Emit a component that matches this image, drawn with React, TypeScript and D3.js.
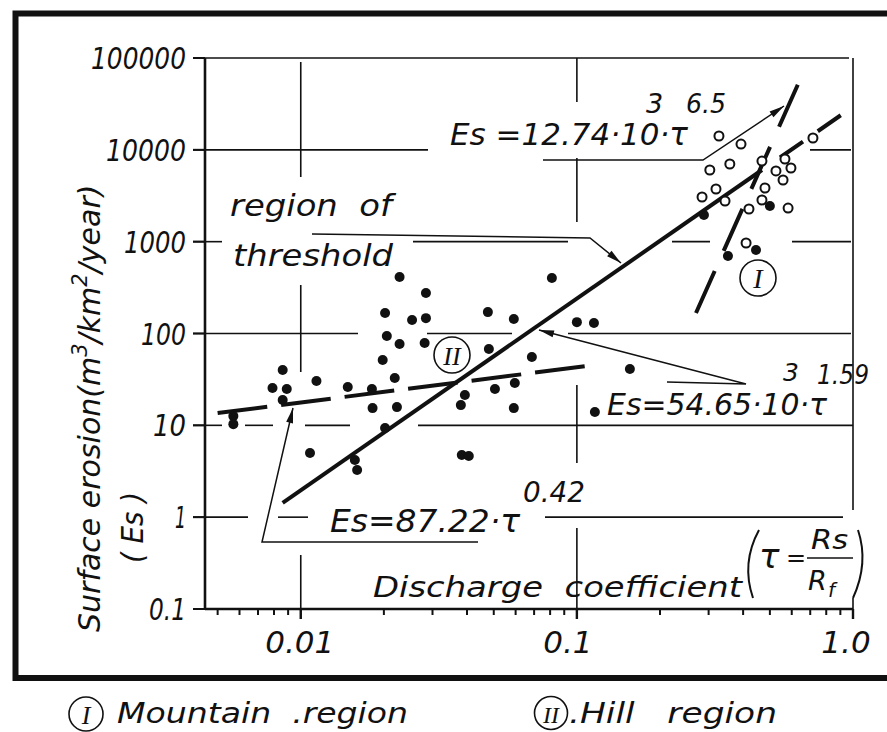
import React from "react";
import * as d3 from "d3";

// ---------- DATA ----------
const hillTau = [0.0057, 0.0057, 0.0086, 0.0079, 0.0089, 0.0086, 0.0114, 0.0148, 0.0181, 0.0182, 0.0108, 0.0198, 0.0219, 0.0223, 0.0202, 0.0157, 0.016, 0.0228, 0.0284, 0.0202, 0.0253, 0.0284, 0.0205, 0.0228, 0.0281, 0.0476, 0.0591, 0.048, 0.0687, 0.0393, 0.038, 0.0505, 0.0596, 0.0591, 0.1556, 0.1162, 0.0383, 0.0406, 0.0812, 0.1, 0.1153];
const hillEs = [12.6, 10.3, 40.0, 25.5, 24.9, 18.9, 30.4, 26.1, 24.9, 15.4, 5.0, 51.4, 32.8, 15.8, 9.35, 4.19, 3.26, 412, 276, 167, 140, 147, 93.9, 76.8, 78.8, 171, 144, 67.8, 55.5, 21.4, 16.6, 24.9, 28.9, 15.4, 41.0, 14.0, 4.75, 4.63, 402, 133, 130];

const mountainFilledTau = [0.2885, 0.5, 0.3525, 0.4453];
const mountainFilledEs = [1951, 2445, 698, 811];

const mountainOpenTau = [0.327, 0.393, 0.358, 0.303, 0.319, 0.284, 0.344, 0.468, 0.567, 0.596, 0.526, 0.558, 0.48, 0.468, 0.42, 0.582, 0.716, 0.41];
const mountainOpenEs = [14150, 11570, 7010, 6030, 3745, 3065, 2773, 7555, 7945, 6340, 5885, 4694, 3840, 2843, 2268, 2325, 13450, 967];

// fitted lines (end points)
const hillLine: [number, number][] = [[0.005, 13.6], [0.116, 45.4]];
const mainLineSolid: [number, number][] = [[0.0086, 1.43], [0.468, 6030]];
const mainLineDashed: [number, number][] = [[0.544, 8250], [0.912, 24300]];
const mountainLine: [number, number][] = [[0.27, 167], [0.659, 68650]];

const yTicks = [100000, 10000, 1000, 100, 10, 1, 0.1];
const yTickLabels = ["100000", "10000", "1000", "100", "10", "1", "0.1"];
const xTicks = [0.01, 0.1, 1.0];
const xTickLabels = ["0.01", "0.1", "1.0"];

// ---------- LAYOUT ----------
const W = 887, H = 732;
const x = d3.scaleLog().domain([0.0045, 1]).range([205, 853]);
const y = d3.scaleLog().domain([0.1, 100000]).range([609, 58]);

const FONT = "DejaVu Sans";

const hGrid: { v: number; segs: [number, number][] }[] = [
  { v: 100000, segs: [[193, 849]] },
  { v: 10000, segs: [[193, 428], [810, 851]] },
  { v: 1000, segs: [[193, 222], [413, 568], [672, 710], [792, 851]] },
  { v: 100, segs: [[193, 358], [427, 512], [568, 851]] },
  { v: 10, segs: [[193, 222], [245, 273], [305, 350], [418, 853]] },
  { v: 1, segs: [[193, 248], [278, 308], [545, 843]] },
];
const vGrid: { v: number; segs: [number, number][] }[] = [
  { v: 0.01, segs: [[62, 177], [285, 372], [555, 619]] },
  { v: 0.1, segs: [[58, 102], [158, 222], [385, 463], [528, 619]] },
  { v: 1.0, segs: [[58, 510], [598, 619]] },
];

const yLabelLen = [95, 80, 62, 45, 33, 11, 37];
const xLabelDx = [-1, -9, -7];

function arrowHead(x1: number, y1: number, x2: number, y2: number, len = 15, hw = 3.5) {
  const a = Math.atan2(y2 - y1, x2 - x1);
  const bx = x2 - len * Math.cos(a), by = y2 - len * Math.sin(a);
  const nx = -Math.sin(a) * hw, ny = Math.cos(a) * hw;
  return `M${x2},${y2}L${bx + nx},${by + ny}L${bx - nx},${by - ny}Z`;
}

const leaders: { pts: [number, number][] }[] = [
  { pts: [[543, 160], [703, 160], [784, 106]] },
  { pts: [[312, 234], [590, 238], [621, 263]] },
  { pts: [[667, 382], [746, 384], [539, 330]] },
  { pts: [[478, 542], [262, 542], [293, 408]] },
];

function T(props: any) {
  const { children, ...rest } = props;
  return (
    <text
      fontFamily={FONT}
      fontStyle="italic"
      fontWeight={200}
      fill="#111"
      lengthAdjust="spacingAndGlyphs"
      style={{ whiteSpace: "pre" }}
      {...rest}
    >
      {children}
    </text>
  );
}

export default function App() {
  const line = d3.line<[number, number]>().x((d) => x(d[0])).y((d) => y(d[1]));
  const minor: number[] = [];
  for (const dec of [0.001, 0.01, 0.1]) {
    for (let k = 2; k <= 9; k++) {
      const v = k * dec;
      if (v >= 0.0045 && v <= 1) minor.push(v);
    }
  }
  return (
    <svg width={W} height={H} style={{ position: "absolute", left: 0, top: 0, background: "#fff" }}>
      <rect x={0} y={0} width={W} height={H} fill="#fff" />
      {/* frame */}
      <path d={`M${W + 10},13.5 L15.5,13.5 L15.5,678 L${W + 10},678`} fill="none" stroke="#111" strokeWidth={6} />

      {/* grid */}
      {hGrid.map((g, i) =>
        g.segs.map((s, j) => (
          <line key={`h${i}-${j}`} x1={s[0]} x2={s[1]} y1={y(g.v)} y2={y(g.v)} stroke="#111" strokeWidth={1.6} />
        ))
      )}
      {vGrid.map((g, i) =>
        g.segs.map((s, j) => (
          <line key={`v${i}-${j}`} x1={x(g.v)} x2={x(g.v)} y1={s[0]} y2={s[1]} stroke="#111" strokeWidth={1.6} />
        ))
      )}

      {/* axes */}
      <line x1={205} x2={205} y1={y(100000)} y2={y(0.1)} stroke="#111" strokeWidth={2.6} />
      <line x1={205} x2={853} y1={y(0.1)} y2={y(0.1)} stroke="#111" strokeWidth={2.6} />
      {yTicks.map((v, i) => (
        <line key={`yt${i}`} x1={193} x2={205} y1={y(v)} y2={y(v)} stroke="#111" strokeWidth={2} />
      ))}
      {minor.map((v, i) => (
        <line key={`mt${i}`} x1={x(v)} x2={x(v)} y1={609} y2={615} stroke="#111" strokeWidth={2} />
      ))}
      {xTicks.map((v, i) => (
        <line key={`xt${i}`} x1={x(v)} x2={x(v)} y1={609} y2={619} stroke="#111" strokeWidth={2.4} />
      ))}

      {/* tick labels */}
      {yTicks.map((v, i) => (
        <T key={`yl${i}`} x={186} y={y(v) + 11} fontSize={30} textAnchor="end" textLength={yLabelLen[i]}>
          {yTickLabels[i]}
        </T>
      ))}
      {xTicks.map((v, i) => (
        <T key={`xl${i}`} x={x(v) + xLabelDx[i]} y={653} fontSize={31} textAnchor="middle">
          {xTickLabels[i]}
        </T>
      ))}

      {/* fitted lines */}
      <path d={line(mainLineSolid) || ""} stroke="#111" strokeWidth={4} fill="none" />
      <path d={line(mainLineDashed) || ""} stroke="#111" strokeWidth={4} fill="none" strokeDasharray="28 18" />
      <path d={line(hillLine) || ""} stroke="#111" strokeWidth={4} fill="none" strokeDasharray="50 14" />
      <path d={line(mountainLine) || ""} stroke="#111" strokeWidth={4} fill="none" strokeDasharray="46 22" />

      {/* leaders */}
      {leaders.map((l, i) => {
        const p = l.pts;
        const a = p[p.length - 2], b = p[p.length - 1];
        return (
          <g key={`ld${i}`}>
            <polyline points={p.map((q) => q.join(",")).join(" ")} fill="none" stroke="#111" strokeWidth={1.5} />
            <path d={arrowHead(a[0], a[1], b[0], b[1])} fill="#111" />
          </g>
        );
      })}

      {/* points */}
      {hillTau.map((t, i) => (
        <circle key={`hp${i}`} cx={x(t)} cy={y(hillEs[i])} r={5} fill="#111" />
      ))}
      {mountainFilledTau.map((t, i) => (
        <circle key={`mf${i}`} cx={x(t)} cy={y(mountainFilledEs[i])} r={5} fill="#111" />
      ))}
      {mountainOpenTau.map((t, i) => (
        <circle key={`mo${i}`} cx={x(t)} cy={y(mountainOpenEs[i])} r={4.5} fill="#fff" stroke="#111" strokeWidth={2} />
      ))}

      {/* region markers */}
      <circle cx={758} cy={278} r={18} fill="#fff" stroke="#111" strokeWidth={1.6} />
      <T x={758} y={288} fontSize={28} textAnchor="middle" fontFamily="Liberation Serif" fontWeight={400}>I</T>
      <circle cx={452} cy={355} r={18} fill="#fff" stroke="#111" strokeWidth={1.6} />
      <T x={452} y={365} fontSize={26} textAnchor="middle" fontFamily="Liberation Serif" fontWeight={400}>II</T>

      {/* equations */}
      <T x={450} y={145} fontSize={31} textLength={238}>Es =12.74·10·τ</T>
      <T x={646} y={113} fontSize={27}>3</T>
      <T x={686} y={113} fontSize={27} textLength={40}>6.5</T>

      <T x={230} y={216} fontSize={31} textLength={162}>region  of</T>
      <T x={233} y={266} fontSize={31} textLength={160}>threshold</T>

      <T x={607} y={415} fontSize={30} textLength={220}>Es=54.65·10·τ</T>
      <T x={783} y={381} fontSize={25}>3</T>
      <T x={817} y={384} fontSize={27} textLength={52}>1.59</T>

      <T x={330} y={532} fontSize={32} textLength={190}>Es=87.22·τ</T>
      <T x={523} y={502} fontSize={28} textLength={62}>0.42</T>

      <T x={373} y={597} fontSize={28} textLength={369}>Discharge  coefficient</T>
      {/* (τ = Rs / Rf) */}
      <path d="M759,530 Q741,563 753,598" fill="none" stroke="#111" strokeWidth={2} />
      <T x={759} y={568} fontSize={34}>τ</T>
      <T x={786} y={566} fontSize={24}>=</T>
      <T x={811} y={549} fontSize={27} textLength={37}>Rs</T>
      <line x1={807} x2={853} y1={558} y2={558} stroke="#111" strokeWidth={1.6} />
      <T x={808} y={590} fontSize={27}>R</T>
      <T x={828} y={597} fontSize={20}>f</T>
      <path d="M858,530 Q869,563 853,598" fill="none" stroke="#111" strokeWidth={2} />

      {/* y title */}
      <T transform="translate(100,632) rotate(-90)" fontSize={30}>
        Surface erosion(m
        <tspan fontSize={21} dy={-13}>3</tspan>
        <tspan dy={13}>/km</tspan>
        <tspan fontSize={21} dy={-13}>2</tspan>
        <tspan dy={13}>/year)</tspan>
      </T>
      <T transform="translate(143,563) rotate(-90)" fontSize={30} textLength={71}>( Es )</T>

      {/* legend */}
      <circle cx={86} cy={714} r={17} fill="none" stroke="#111" strokeWidth={1.6} />
      <T x={86} y={724} fontSize={26} textAnchor="middle" fontFamily="Liberation Serif" fontWeight={400}>I</T>
      <T x={117} y={723} fontSize={28} textLength={291}>Mountain  .region</T>
      <circle cx={551} cy={713} r={16.5} fill="none" stroke="#111" strokeWidth={1.6} />
      <T x={551} y={723} fontSize={24} textAnchor="middle" fontFamily="Liberation Serif" fontWeight={400}>II</T>
      <T x={569} y={723} fontSize={28} textLength={208}>.Hill   region</T>
    </svg>
  );
}
